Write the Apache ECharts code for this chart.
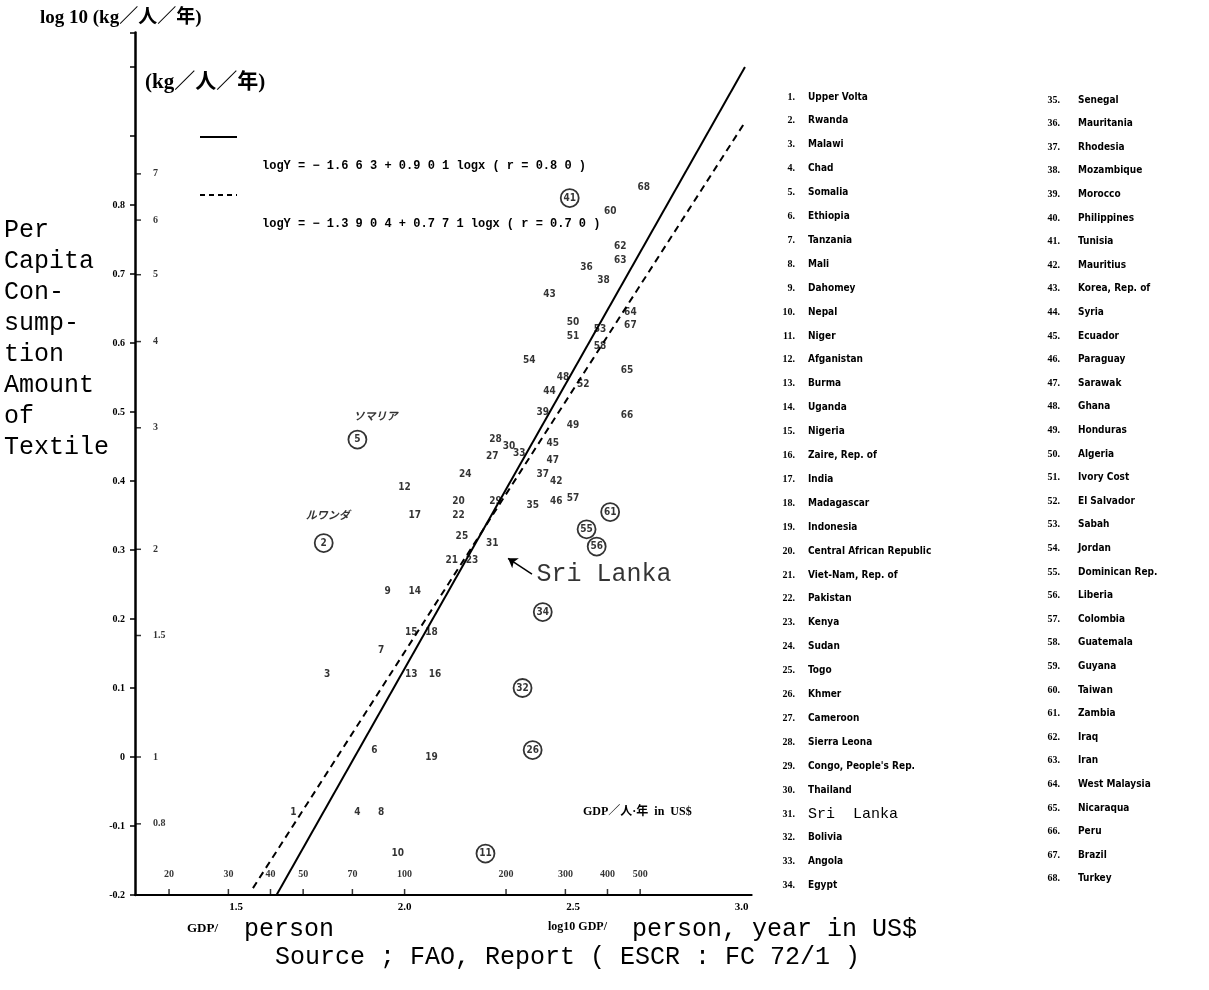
<!DOCTYPE html>
<html>
<head>
<meta charset="utf-8">
<script src="https://cdn.jsdelivr.net/npm/echarts@6/dist/echarts.min.js"></script>
<style>
html, body { margin: 0; background: #fff; }
#main { width: 1209px; height: 990px; }
</style>
</head>
<body>
<div id="main"></div>
<script>
// country numbers plotted, log10 GDP per person, log10 textile consumption (kg/person/year)
var pointIds = [1, 2, 3, 4, 5, 6, 7, 8, 9, 10, 11, 12, 13, 14, 15, 16, 17, 18, 19, 20,
    21, 22, 23, 24, 25, 26, 27, 28, 29, 30, 31, 32, 33, 34, 35, 36, 37, 38, 39, 41,
    42, 43, 44, 45, 46, 47, 48, 49, 50, 51, 52, 53, 54, 55, 56, 57, 58, 60, 61, 62,
    63, 64, 65, 66, 67, 68];
var logGdp = [1.67, 1.76, 1.77, 1.86, 1.86, 1.91, 1.93, 1.93, 1.95, 1.98, 2.24, 2.00, 2.02, 2.03, 2.02, 2.09, 2.03, 2.08, 2.08, 2.16,
    2.14, 2.16, 2.20, 2.18, 2.17, 2.38, 2.26, 2.27, 2.27, 2.31, 2.26, 2.35, 2.34, 2.41, 2.38, 2.54, 2.41, 2.59, 2.41, 2.49,
    2.45, 2.43, 2.43, 2.44, 2.45, 2.44, 2.47, 2.50, 2.50, 2.50, 2.53, 2.58, 2.37, 2.54, 2.57, 2.50, 2.58, 2.61, 2.61, 2.64,
    2.64, 2.67, 2.66, 2.66, 2.67, 2.71];
var logKg = [-0.08, 0.31, 0.12, -0.08, 0.46, 0.01, 0.155, -0.08, 0.24, -0.14, -0.14, 0.39, 0.12, 0.24, 0.18, 0.12, 0.35, 0.18, 0.00, 0.37,
    0.285, 0.35, 0.285, 0.41, 0.32, 0.01, 0.435, 0.46, 0.37, 0.45, 0.31, 0.10, 0.44, 0.21, 0.365, 0.71, 0.41, 0.69, 0.50, 0.81,
    0.40, 0.67, 0.53, 0.455, 0.37, 0.43, 0.55, 0.48, 0.63, 0.61, 0.54, 0.62, 0.575, 0.33, 0.305, 0.375, 0.595, 0.79, 0.355, 0.74,
    0.72, 0.645, 0.56, 0.495, 0.625, 0.825];
var circledIds = [2, 5, 11, 26, 32, 34, 41, 55, 56, 61];

var countries = ['Upper Volta', 'Rwanda', 'Malawi', 'Chad', 'Somalia', 'Ethiopia', 'Tanzania', 'Mali',
    'Dahomey', 'Nepal', 'Niger', 'Afganistan', 'Burma', 'Uganda', 'Nigeria', 'Zaire, Rep. of', 'India',
    'Madagascar', 'Indonesia', 'Central African Republic', 'Viet-Nam, Rep. of', 'Pakistan', 'Kenya',
    'Sudan', 'Togo', 'Khmer', 'Cameroon', 'Sierra Leona', "Congo, People's Rep.", 'Thailand', 'Sri Lanka',
    'Bolivia', 'Angola', 'Egypt', 'Senegal', 'Mauritania', 'Rhodesia', 'Mozambique', 'Morocco',
    'Philippines', 'Tunisia', 'Mauritius', 'Korea, Rep. of', 'Syria', 'Ecuador', 'Paraguay', 'Sarawak',
    'Ghana', 'Honduras', 'Algeria', 'Ivory Cost', 'El Salvador', 'Sabah', 'Jordan', 'Dominican Rep.',
    'Liberia', 'Colombia', 'Guatemala', 'Guyana', 'Taiwan', 'Zambia', 'Iraq', 'Iran', 'West Malaysia',
    'Nicaraqua', 'Peru', 'Brazil', 'Turkey'];

// secondary scale labels
var kgTicks = [0.8, 1, 1.5, 2, 3, 4, 5, 6, 7];
var gdpTicks = [20, 30, 40, 50, 70, 100, 200, 300, 400, 500];

// regression lines as drawn (log10 GDP, log10 kg)
var solidLine = [[1.62, -0.2], [3.01, 1.0]];
var dashedLine = [[1.55, -0.19], [3.01, 0.92]];

// annotations
var sriArrow = [[2.378, 0.265], [2.307, 0.288]];
var kanaNotes = [[5, 'ソマリア', 18, -4], [2, 'ルワンダ', 4, -8]];

var myChart = echarts.init(document.getElementById('main'));

var plain = [], circled = [];
for (var i = 0; i < pointIds.length; i++) {
    var item = { name: String(pointIds[i]), value: [logGdp[i], logKg[i]] };
    if (circledIds.indexOf(pointIds[i]) >= 0) circled.push(item); else plain.push(item);
}
function findPoint(id) {
    var k = pointIds.indexOf(id);
    return [logGdp[k], logKg[k]];
}

var numFont = 'Liberation Serif';
var markFont = 'DejaVu Sans Condensed, DejaVu Sans';
var typeFont = 'Liberation Mono';
var clear = 'rgba(0,0,0,0)';

var graphics = [];
function txt(x, y, s, size, font, weight, align) {
    graphics.push({
        type: 'text', x: x, y: y,
        style: { text: s, fontSize: size, fontFamily: font, fontWeight: weight || 'normal',
            fill: '#000', align: align || 'left', verticalAlign: 'middle' }
    });
}
txt(40, 18, 'log 10 (kg／人／年)', 19, 'Liberation Serif, Noto Sans CJK JP', 'bold');
txt(145, 83, '(kg／人／年)', 21, 'Liberation Serif, Noto Sans CJK JP', 'bold');
graphics.push({ type: 'line', shape: { x1: 200, y1: 137, x2: 237, y2: 137 }, style: { stroke: '#000', lineWidth: 2 } });
graphics.push({ type: 'line', shape: { x1: 200, y1: 195, x2: 237, y2: 195 }, style: { stroke: '#000', lineWidth: 2, lineDash: [5, 4] } });
txt(262, 166, 'logY = − 1.6 6 3 + 0.9 0 1 logx ( r = 0.8 0 )', 12, typeFont, 'bold');
txt(262, 224, 'logY = − 1.3 9 0 4 + 0.7 7 1 logx ( r = 0.7 0 )', 12, typeFont, 'bold');

var leftTitle = ['Per', 'Capita', 'Con-', 'sump-', 'tion', 'Amount', 'of', 'Textile'];
leftTitle.forEach(function (s, k) { txt(4, 230 + k * 31, s, 25, typeFont); });

txt(583, 812, 'GDP／人·年  in  US$', 12, 'Liberation Serif, Noto Sans CJK JP', 'bold');
txt(187, 929, 'GDP/', 13, numFont, 'bold');
txt(244, 929, 'person', 25, typeFont);
txt(548, 927, 'log10 GDP/', 12, numFont, 'bold');
txt(632, 929, 'person, year in US$', 25, typeFont);
txt(275, 957, 'Source ; FAO, Report ( ESCR : FC 72/1 )', 25, typeFont);

// country list
countries.forEach(function (c, k) {
    var col = k < 34 ? 0 : 1;
    var r = col ? k - 34 : k;
    var y = col ? 100 + r * 23.6 : 97 + r * 23.9;
    var xn = col ? 1060 : 795;
    var xt = col ? 1078 : 808;
    txt(xn, y, (k + 1) + '.', 10, numFont, 'bold', 'right');
    if (c === 'Sri Lanka') txt(xt, y, 'Sri  Lanka', 15, typeFont);
    else txt(xt, y, c, 10, markFont, 'bold');
});

var labelStyle = { show: true, position: 'inside', formatter: '{b}', color: '#000',
    fontSize: 10, fontWeight: 'bold', fontFamily: markFont };

option = {
    animation: false,
    backgroundColor: '#fff',
    grid: { left: 135, top: 32.5, width: 616.7, height: 862.5 },
    xAxis: {
        type: 'value', min: 1.2, max: 3.03, interval: 0.1,
        axisLine: { onZero: false, lineStyle: { color: '#000', width: 2 } },
        axisTick: { show: false },
        splitLine: { show: false },
        axisLabel: {
            color: '#000', fontSize: 11, fontWeight: 'bold', fontFamily: numFont, margin: 7,
            formatter: function (v) {
                var t = Math.round(v * 10);
                return (t % 5 === 0 && Math.abs(v * 10 - t) < 1e-6) ? (t / 10).toFixed(1) : '';
            }
        }
    },
    yAxis: {
        type: 'value', min: -0.2, max: 1.05, interval: 0.1,
        axisLine: { show: true, onZero: false, lineStyle: { color: '#000', width: 2.5 } },
        axisTick: { show: true, length: 5, lineStyle: { color: '#000', width: 1.5 } },
        splitLine: { show: false },
        axisLabel: {
            color: '#000', fontSize: 10, fontWeight: 'bold', fontFamily: numFont, margin: 10,
            formatter: function (v) {
                if (v > 0.85) return '';
                var t = Math.round(v * 10) / 10;
                return t === 0 ? '0' : String(t);
            }
        }
    },
    graphic: graphics,
    series: [
        {
            name: 'fit1', type: 'line', data: solidLine, symbol: 'none', silent: true,
            lineStyle: { color: '#000', width: 2 }, z: 2
        },
        {
            name: 'fit2', type: 'line', data: dashedLine, symbol: 'none', silent: true,
            lineStyle: { color: '#000', width: 2, type: [7, 5] }, z: 2
        },
        {
            name: 'countries', type: 'scatter', data: plain, symbolSize: 1,
            itemStyle: { color: clear }, label: labelStyle, z: 3
        },
        {
            name: 'outliers', type: 'scatter', data: circled, symbol: 'circle', symbolSize: 18,
            itemStyle: { color: '#fff', borderColor: '#000', borderWidth: 1.8 },
            label: labelStyle, z: 4
        },
        {
            name: 'kgScale', type: 'scatter', symbol: 'rect', symbolSize: [6, 1.5], symbolOffset: [3, 0],
            data: kgTicks.map(function (v) { return { name: String(v), value: [1.2, Math.log10(v)] }; }),
            itemStyle: { color: '#000' },
            label: { show: true, position: 'right', distance: 12, formatter: '{b}', color: '#000',
                fontSize: 10, fontWeight: 'bold', fontFamily: numFont }, z: 3
        },
        {
            name: 'gdpScale', type: 'scatter', symbol: 'rect', symbolSize: [1.5, 6], symbolOffset: [0, -3],
            data: gdpTicks.map(function (v) { return { name: String(v), value: [Math.log10(v), -0.2] }; }),
            itemStyle: { color: '#000' },
            label: { show: true, position: 'top', distance: 10, formatter: '{b}', color: '#000',
                fontSize: 10, fontWeight: 'bold', fontFamily: numFont }, z: 3
        },
        {
            name: 'kana', type: 'scatter', symbolSize: 1, itemStyle: { color: clear },
            data: kanaNotes.map(function (n) {
                return { name: n[1], value: findPoint(n[0]),
                    label: { offset: [n[2], n[3]] } };
            }),
            label: { show: true, position: 'top', distance: 14, formatter: '{b}', color: '#000',
                fontSize: 11, fontStyle: 'italic', fontWeight: 'bold', fontFamily: 'Noto Sans CJK JP' }, z: 3
        },
        {
            name: 'sriLanka', type: 'scatter', symbolSize: 1, itemStyle: { color: clear },
            data: [{ name: 'Sri Lanka', value: sriArrow[0] }],
            label: { show: true, position: 'right', distance: 4, formatter: '{b}', color: '#000',
                fontSize: 25, fontFamily: typeFont }, z: 3
        },
        {
            name: 'arrow', type: 'lines', coordinateSystem: 'cartesian2d', silent: true,
            symbol: ['none', 'arrow'], symbolSize: 9,
            lineStyle: { color: '#000', width: 1.5, opacity: 1 },
            data: [{ coords: sriArrow }], z: 3
        }
    ]
};

myChart.setOption(option);
</script>
</body>
</html>
